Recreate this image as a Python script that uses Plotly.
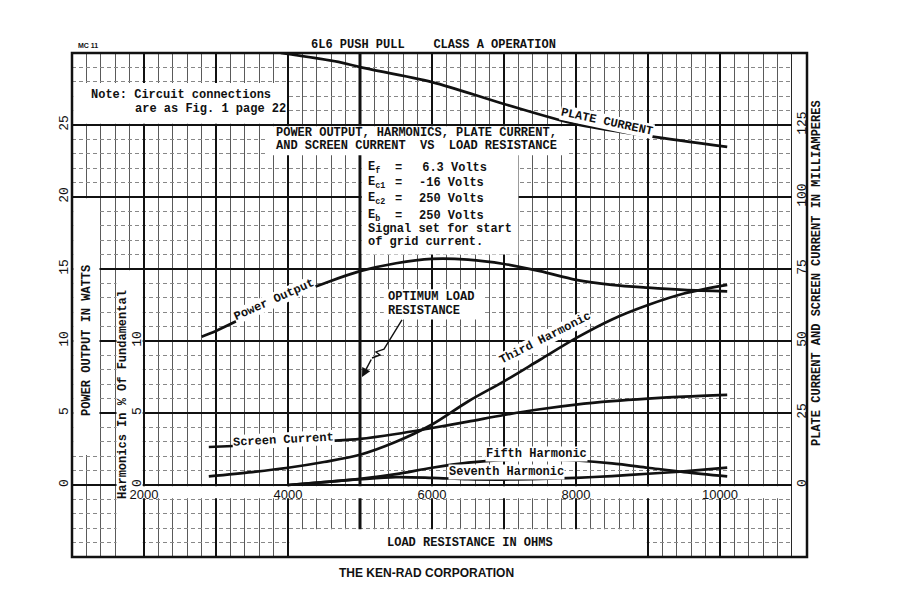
import plotly.graph_objects as go

# ---------------- data ----------------
plate_r = [3900, 4700, 5000, 6000, 7000, 8000, 9000, 10100]
plate_ma = [150.0, 146.9, 145.1, 139.9, 132.3, 125.3, 121.2, 117.4]

screen_r = [2900, 3500, 4000, 4500, 5000, 5500, 6000, 6500, 7000, 7500, 8000, 8500, 9000, 9500, 10100]
screen_ma = [13.2, 13.8, 14.4, 15.2, 16.0, 17.7, 19.8, 22.0, 24.3, 26.3, 27.9, 29.1, 30.0, 30.7, 31.3]

power_r = [2800, 3000, 3500, 4000, 4500, 5000, 5500, 6000, 6500, 7000, 7500, 8000, 8500, 9000, 9500, 10100]
power_w = [10.3, 10.7, 11.9, 13.05, 14.0, 14.85, 15.4, 15.7, 15.65, 15.35, 14.85, 14.25, 13.9, 13.7, 13.55, 13.45]

third_r = [2900, 3500, 4000, 4500, 5000, 5500, 6000, 6500, 7000, 7500, 8000, 8500, 9000, 9500, 10100]
third_pct = [0.6, 0.9, 1.2, 1.6, 2.1, 3.0, 4.2, 5.8, 7.2, 8.7, 10.2, 11.5, 12.5, 13.3, 13.9]

fifth_r = [4000, 4500, 5000, 5500, 6000, 6500, 7000, 7500, 8000, 8500, 9000, 9500, 10100]
fifth_pct = [0.0, 0.2, 0.42, 0.75, 1.2, 1.55, 1.75, 1.8, 1.7, 1.5, 1.2, 0.9, 0.6]

seventh_r = [4000, 4500, 5000, 5500, 6000, 6500, 7000, 7500, 8000, 8500, 9000, 9500, 10100]
seventh_pct = [0.0, 0.2, 0.4, 0.55, 0.5, 0.4, 0.38, 0.42, 0.5, 0.62, 0.78, 0.95, 1.2]

x_tickvals = [1000, 2000, 3000, 4000, 5000, 6000, 7000, 8000, 9000, 10000, 11000]
x_ticktext = ["", "2000", "", "4000", "", "6000", "", "8000", "", "10000", ""]
w_tickvals = [-5, 0, 5, 10, 15, 20, 25, 30]
w_ticktext = ["", "0", "5", "10", "15", "20", "25", ""]
h_tickvals = [0, 5, 10]
ma_tickvals = [0, 25, 50, 75, 100, 125]

MONO = "Liberation Mono"
SANS = "Liberation Sans"
BLACK = "#111111"

fig = go.Figure()

line_style = dict(color=BLACK, width=2.7, shape="spline", smoothing=0.9)
fig.add_trace(go.Scatter(x=plate_r, y=plate_ma, yaxis="y3", mode="lines", line=line_style,
                         name="Plate Current"))
fig.add_trace(go.Scatter(x=screen_r, y=screen_ma, yaxis="y3", mode="lines", line=line_style,
                         name="Screen Current"))
fig.add_trace(go.Scatter(x=power_r, y=power_w, yaxis="y", mode="lines", line=line_style,
                         name="Power Output"))
fig.add_trace(go.Scatter(x=third_r, y=third_pct, yaxis="y2", mode="lines", line=line_style,
                         name="Third Harmonic"))
fig.add_trace(go.Scatter(x=fifth_r, y=fifth_pct, yaxis="y2", mode="lines", line=line_style,
                         name="Fifth Harmonic"))
fig.add_trace(go.Scatter(x=seventh_r, y=seventh_pct, yaxis="y2", mode="lines", line=line_style,
                         name="Seventh Harmonic"))

# ---------------- white panels that hide the grid ----------------
dx, dy = 18, 0.08
shapes = []
def white_box(x0, x1, y0, y1):
    shapes.append(dict(type="rect", xref="x", yref="y", x0=x0, x1=x1, y0=y0, y1=y1,
                       fillcolor="white", line=dict(width=0), layer="between"))

shapes.append(dict(type="line", xref="x", yref="y", x0=5000, x1=5000, y0=-5, y1=30,
                   line=dict(color=BLACK, width=3), layer="between"))
white_box(1000 + dx, 4000 - dx, 25 + dy, 28 - dy)          # note panel
white_box(3700, 7900, 22.9, 25 - dy)                        # title panel
white_box(5000 + 25, 7200, 16.0, 22.95)                     # conditions panel
white_box(5330, 6700, 11.5, 13.6)                           # optimum load panel
white_box(1000 + dx, 1400 - dx, 2 + dy, 20 - dy)            # watts title strip
white_box(1600 + dx, 2000 - dx, -5, 15 - dy)                # harmonics title strip
white_box(1600 + dx, 11000, -1 + dy, 0 - dy)                # x tick label row
white_box(4000 + dx, 9000 - dx, -5, -3 - dy)                # x title panel

shapes.append(dict(type="path", xref="x", yref="y",
                   path="M 5583 11.46 L 5333 9.44 L 5222 9.24 L 5278 9.03 L 5167 8.82",
                   line=dict(color=BLACK, width=1.4), layer="above"))
shapes.append(dict(type="rect", xref="paper", yref="paper", x0=0, x1=(807 - 72) / 720, y0=0, y1=1,
                   line=dict(color=BLACK, width=2.5), layer="above"))
shapes.append(dict(type="line", xref="x", yref="paper", x0=11000, x1=11000, y0=0, y1=1,
                   line=dict(color=BLACK, width=1.8), layer="above"))

# ---------------- text ----------------
def ann(text, x, y, xref="x", yref="y", size=12, angle=0, xanchor="center", bg=None,
        family=MONO, bold=True):
    d = dict(text=("<b>%s</b>" % text) if bold else text, x=x, y=y, xref=xref, yref=yref,
             showarrow=False, textangle=angle, xanchor=xanchor, yanchor="middle",
             font=dict(family=family, size=size, color=BLACK), borderpad=0)
    if bg:
        d["bgcolor"] = bg
    return d

NB = "\u00a0"
annotations = [
    ann("6L6 PUSH PULL" + NB * 4 + "CLASS A OPERATION", 0.5014, 1.0159, "paper", "paper"),
    ann("MC 11", 0.022, 1.014, "paper", "paper", size=7, family=SANS),
    ann("Note:" + NB + "Circuit connections", 1250, 27.08, xanchor="left"),
    ann("are as Fig. 1 page 22", 1861, 26.1, xanchor="left"),
    ann("POWER OUTPUT, HARMONICS, PLATE CURRENT,", 5778, 24.44),
    ann("AND SCREEN CURRENT" + NB * 2 + "VS" + NB * 2 + "LOAD RESISTANCE", 5778, 23.54),
    ann("E<sub>f</sub>", 5097, 22.01, xanchor="left"),
    ann("E<sub>c1</sub>", 5097, 20.97, xanchor="left"),
    ann("E<sub>c2</sub>", 5097, 19.86, xanchor="left"),
    ann("E<sub>b</sub>", 5097, 18.68, xanchor="left"),
    ann("=", 5472, 22.01, xanchor="left"),
    ann("=", 5472, 20.97, xanchor="left"),
    ann("=", 5472, 19.86, xanchor="left"),
    ann("=", 5472, 18.68, xanchor="left"),
    ann(NB + "6.3 Volts", 5750, 22.01, xanchor="left"),
    ann("-16 Volts", 5806, 20.97, xanchor="left"),
    ann("250 Volts", 5806, 19.86, xanchor="left"),
    ann("250 Volts", 5806, 18.68, xanchor="left"),
    ann("Signal set for start", 5097, 17.78, xanchor="left"),
    ann("of grid current.", 5097, 16.88, xanchor="left"),
    ann("OPTIMUM LOAD", 5375, 13.08, xanchor="left"),
    ann("RESISTANCE", 5375, 12.06, xanchor="left"),
    ann("PLATE CURRENT", 8431, 25.2, angle=12, bg="white"),
    ann("Power Output", 3806, 12.85, angle=-24, bg="white"),
    ann("Third Harmonic", 7583, 10.2, angle=-27, bg="white"),
    ann("Screen Current", 3944, 3.12, angle=-3, bg="white"),
    ann("Fifth Harmonic", 7458, 2.15, bg="white"),
    ann("Seventh Harmonic", 7028, 0.9, bg="white"),
    ann("POWER OUTPUT IN WATTS", 0.0208, 10.07, "paper", "y", angle=-90),
    ann("Harmonics In % Of Fundamental", 0.0708, 6.32, "paper", "y", angle=-90),
    ann("PLATE CURRENT AND SCREEN CURRENT IN MILLIAMPERES", 1.0347, 0.5635, "paper", "paper",
        angle=-90),
    ann("LOAD RESISTANCE IN OHMS", 6528, -4.03),
    ann("THE KEN-RAD CORPORATION", 0.493, -0.0317, "paper", "paper", family=SANS),
]
annotations.append(dict(x=5028, y=7.5, ax=5167, ay=8.82, xref="x", yref="y", axref="x", ayref="y",
                        text="", showarrow=True, arrowhead=2, arrowsize=1.2, arrowwidth=1.5,
                        arrowcolor=BLACK))

fig.update_layout(
    width=899, height=594,
    margin=dict(l=72, r=107, t=53, b=37),
    paper_bgcolor="white", plot_bgcolor="white",
    showlegend=False,
    shapes=shapes, annotations=annotations,
    xaxis=dict(range=[1000, 11000], tickmode="array", tickvals=x_tickvals, ticktext=x_ticktext,
               showgrid=True, gridcolor=BLACK, gridwidth=1.7, zeroline=False, showline=False,
               ticks="", anchor="free", position=1 / 7,
               tickfont=dict(family=SANS, size=13, color=BLACK),
               minor=dict(tickmode="linear", tick0=1000, dtick=200, showgrid=True,
                          gridcolor="#5a5a5a", gridwidth=1)),
    yaxis=dict(range=[-5, 30], tickmode="array", tickvals=w_tickvals, ticktext=w_ticktext,
               tickangle=-90, showgrid=True, gridcolor=BLACK, gridwidth=1.7, zeroline=False,
               showline=False, ticks="", tickfont=dict(family=MONO, size=13, color=BLACK),
               minor=dict(tickmode="linear", tick0=0, dtick=1, showgrid=True,
                          gridcolor="#888888", gridwidth=1, griddash="4px,3px")),
    yaxis2=dict(range=[-5, 30], overlaying="y", anchor="free", position=0.1, side="left",
                tickmode="array", tickvals=h_tickvals, tickangle=-90, showgrid=False,
                zeroline=False, showline=False, ticks="",
                tickfont=dict(family=MONO, size=13, color=BLACK)),
    yaxis3=dict(range=[-25, 150], overlaying="y", anchor="x", side="right",
                tickmode="array", tickvals=ma_tickvals, tickangle=-90, showgrid=False,
                zeroline=False, showline=False, ticks="",
                tickfont=dict(family=MONO, size=13, color=BLACK)),
)

fig.write_html("out.html", config={"displayModeBar": False},
               post_script="document.body.style.margin='0px';")
